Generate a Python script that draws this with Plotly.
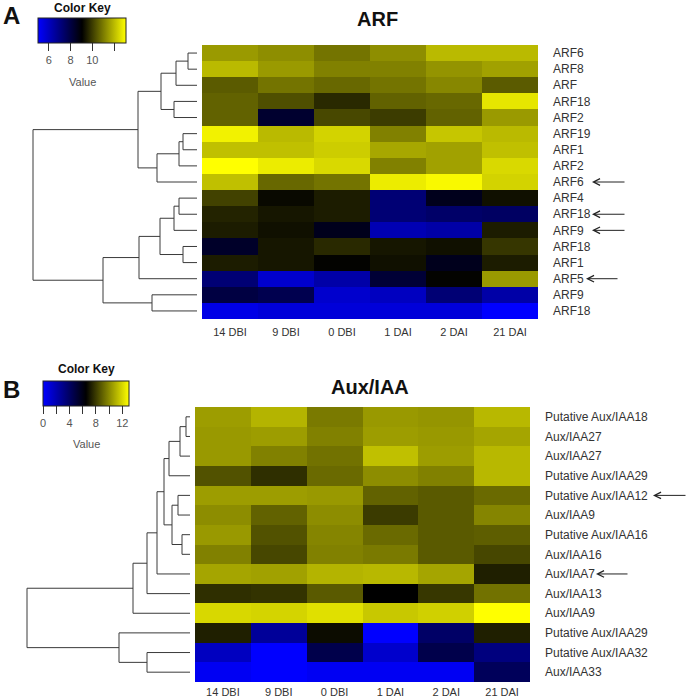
import plotly.graph_objects as go

W, H = 690, 699

# ---------------- data ----------------
cols = ["14 DBI", "9 DBI", "0 DBI", "1 DAI", "2 DAI", "21 DAI"]

arf_rows = ["ARF6", "ARF8", "ARF", "ARF18", "ARF2", "ARF19", "ARF1", "ARF2", "ARF6",
            "ARF4", "ARF18", "ARF9", "ARF18", "ARF1", "ARF5", "ARF9", "ARF18"]
arf_vals = [
    [11.5, 11.3, 10.9, 11.3, 12.0, 12.0],
    [12.0, 11.5, 11.1, 11.1, 11.4, 11.6],
    [10.5, 10.9, 10.7, 10.9, 11.2, 10.5],
    [10.6, 10.3, 9.7, 10.6, 10.7, 12.7],
    [10.6, 8.3, 10.2, 10.0, 10.6, 11.5],
    [12.9, 12.0, 12.4, 11.1, 12.2, 12.0],
    [12.1, 12.1, 12.3, 11.7, 11.6, 12.1],
    [13.1, 12.8, 12.5, 11.1, 11.6, 12.5],
    [12.1, 10.7, 10.9, 12.8, 13.0, 12.4],
    [10.1, 9.2, 9.5, 7.2, 8.6, 9.3],
    [9.6, 9.4, 9.5, 7.2, 7.4, 7.5],
    [9.5, 9.3, 8.6, 6.2, 6.4, 9.5],
    [8.4, 9.4, 9.7, 9.4, 9.3, 9.9],
    [9.5, 9.4, 9.1, 9.3, 8.6, 9.5],
    [7.2, 5.8, 6.4, 8.2, 9.1, 11.5],
    [8.0, 7.8, 5.8, 6.0, 7.2, 6.4],
    [5.4, 5.6, 5.6, 5.6, 5.6, 5.0],
]
# linkage: (left, right, height); leaves 0..n-1, merged nodes n, n+1, ...
arf_link = [
    (0, 1, 9), (17, 2, 21), (3, 4, 23), (18, 19, 36),
    (5, 6, 14), (21, 7, 18), (22, 8, 40), (20, 23, 59),
    (9, 10, 18), (25, 11, 23), (12, 13, 14), (26, 27, 37),
    (28, 14, 58), (15, 16, 45), (29, 30, 94), (24, 31, 164),
]
arf_arrows = [8, 10, 11, 14]

aux_rows = ["Putative Aux/IAA18", "Aux/IAA27", "Aux/IAA27", "Putative Aux/IAA29",
            "Putative Aux/IAA12", "Aux/IAA9", "Putative Aux/IAA16", "Aux/IAA16",
            "Aux/IAA7", "Aux/IAA13", "Aux/IAA9", "Putative Aux/IAA29",
            "Putative Aux/IAA32", "Aux/IAA33"]
aux_vals = [
    [10.5, 11.1, 9.6, 10.4, 10.3, 11.2],
    [10.4, 10.5, 9.8, 10.5, 10.4, 10.7],
    [10.4, 9.8, 9.4, 11.4, 10.5, 11.2],
    [8.6, 7.7, 9.2, 10.1, 9.8, 11.2],
    [10.5, 10.5, 10.4, 9.0, 8.8, 9.2],
    [10.1, 9.0, 10.1, 8.0, 8.8, 9.9],
    [10.4, 8.6, 9.9, 9.2, 8.8, 8.9],
    [9.8, 8.3, 9.8, 9.6, 8.8, 8.3],
    [10.7, 10.6, 11.1, 11.2, 10.7, 7.3],
    [7.7, 7.8, 8.8, 6.5, 7.9, 9.4],
    [12.0, 11.9, 12.2, 11.6, 11.8, 13.0],
    [7.3, 2.6, 6.8, 0.0, 3.9, 7.3],
    [1.6, 0.0, 4.6, 1.3, 4.6, 3.3],
    [0.3, 0.0, 0.3, 0.3, 0.3, 4.2],
]
aux_link = [
    (0, 1, 4), (14, 2, 10), (15, 3, 21), (4, 5, 12), (6, 7, 8),
    (17, 18, 18), (16, 19, 26), (20, 8, 33), (21, 9, 43), (22, 10, 57),
    (12, 13, 43), (11, 24, 71), (23, 25, 163),
]
aux_arrows = [4, 8]

arf_range = (5.0, 13.1)
aux_range = (0.0, 13.0)
arf_key_ticks = [6, 8, 10, 12]
arf_key_text = ["6", "8", "10", ""]
aux_key_ticks = [0, 2, 4, 6, 8, 10, 12]
aux_key_text = ["0", "", "4", "", "8", "", "12"]

# ---------------- helpers ----------------
def px(x):
    return x / W

def py(y):
    return 1 - y / H

def dendro_xy(link, n):
    pos = {i: (float(i), 0.0) for i in range(n)}
    xs, ys = [], []
    for k, (a, b, h) in enumerate(link):
        ya, ha = pos[a]
        yb, hb = pos[b]
        xs += [ha, h, h, hb, None]
        ys += [ya, ya, yb, yb, None]
        pos[n + k] = ((ya + yb) / 2, h)
    return xs, ys

scale = [[0, "#0000FF"], [0.5, "#000000"], [1, "#FFFF00"]]
txt = "#333333"
font_family = "Liberation Sans, Arial, sans-serif"

fig = go.Figure()

panels = [
    dict(rows=arf_rows, vals=arf_vals, link=arf_link, rng=arf_range, arrows=arf_arrows,
         hx=(202, 538), hy=(45, 319), leaf_x=197, xa="x", ya="y", dxa="x2", dya="y2",
         key=dict(x0=38, x1=126, y0=18, tv=arf_key_ticks, tt=arf_key_text),
         title="ARF", title_xy=(377, 19), letter="A", letter_xy=(11, 16),
         ckey_xy=(82, 8), value_xy=(82, 82), xstand=5),
    dict(rows=aux_rows, vals=aux_vals, link=aux_link, rng=aux_range, arrows=aux_arrows,
         hx=(195, 530), hy=(407, 682), leaf_x=190, xa="x3", ya="y3", dxa="x4", dya="y4",
         key=dict(x0=43, x1=129, y0=381, tv=aux_key_ticks, tt=aux_key_text),
         title="Aux/IAA", title_xy=(370, 387), letter="B", letter_xy=(11, 390),
         ckey_xy=(86, 369), value_xy=(86, 444), xstand=2),
]

layout_axes = {}
annotations = []
arrow_specs = {0: [(592, 626), (592, 626), (592, 626), (586, 619)],
               1: [(653, 687), (596, 629)]}

def label(text, xy, size, color, bold=False):
    return dict(text=("<b>%s</b>" % text) if bold else text,
                x=px(xy[0]), y=py(xy[1]), xref="paper", yref="paper",
                xanchor="center", yanchor="middle", showarrow=False,
                font=dict(size=size, color=color, family=font_family))

for pi, p in enumerate(panels):
    n = len(p["rows"])
    k = p["key"]
    fig.add_trace(go.Heatmap(
        z=p["vals"], x=list(range(len(cols))), y=list(range(n)),
        colorscale=scale, zmin=p["rng"][0], zmax=p["rng"][1],
        xaxis=p["xa"], yaxis=p["ya"], hoverinfo="skip",
        colorbar=dict(orientation="h", lenmode="pixels", len=k["x1"] - k["x0"],
                      thickness=25, x=px((k["x0"] + k["x1"]) / 2), xanchor="center",
                      y=py(k["y0"]), yanchor="top", xpad=0, ypad=0,
                      outlinewidth=1, outlinecolor="#222222",
                      tickmode="array", tickvals=k["tv"], ticktext=k["tt"],
                      ticks="outside", ticklen=8, tickwidth=1, tickcolor="#333333",
                      tickfont=dict(size=11, color="#555555", family=font_family)),
    ))
    dx, dy = dendro_xy(p["link"], n)
    fig.add_trace(go.Scatter(x=dx, y=dy, mode="lines", xaxis=p["dxa"], yaxis=p["dya"],
                             line=dict(color="#3a3a3a", width=1), hoverinfo="skip",
                             showlegend=False))
    xdom = [px(p["hx"][0]), px(p["hx"][1])]
    ydom = [py(p["hy"][1]), py(p["hy"][0])]
    xk = "xaxis" + p["xa"][1:]
    yk = "yaxis" + p["ya"][1:]
    dxk = "xaxis" + p["dxa"][1:]
    dyk = "yaxis" + p["dya"][1:]
    layout_axes[xk] = dict(domain=xdom, range=[-0.5, len(cols) - 0.5], anchor=p["ya"],
                           tickmode="array", tickvals=list(range(len(cols))), ticktext=cols,
                           showgrid=False, zeroline=False, showline=False, ticks="",
                           ticklabelstandoff=p["xstand"], automargin=False,
                           tickfont=dict(size=11, color=txt, family=font_family))
    layout_axes[yk] = dict(domain=ydom, range=[n - 0.5, -0.5], anchor=p["xa"], side="right",
                           tickmode="array", tickvals=list(range(n)), ticktext=p["rows"],
                           showgrid=False, zeroline=False, showline=False, ticks="",
                           ticklabelstandoff=14, automargin=False,
                           tickfont=dict(size=12, color=txt, family=font_family))
    layout_axes[dxk] = dict(domain=[0, px(p["leaf_x"])], range=[p["leaf_x"], 0],
                            anchor=p["dya"], visible=False)
    layout_axes[dyk] = dict(domain=ydom, range=[n - 0.5, -0.5], anchor=p["dxa"], visible=False)

    annotations.append(label(p["title"], p["title_xy"], 20, "#111111", bold=True))
    annotations.append(label(p["letter"], p["letter_xy"], 24, "#111111", bold=True))
    annotations.append(label("Color Key", p["ckey_xy"], 12, "#111111", bold=True))
    annotations.append(label("Value", p["value_xy"], 11, "#555555"))
    for (head, tail), r in zip(arrow_specs[pi], p["arrows"]):
        annotations.append(dict(text="", x=px(head), y=r, xref="paper", yref=p["ya"],
                                ax=tail - head, ay=0, showarrow=True, arrowhead=5,
                                arrowsize=1.3, arrowwidth=1, arrowcolor="#222222"))

fig.update_layout(width=W, height=H,
                  margin=dict(l=0, r=0, t=0, b=0, autoexpand=False),
                  paper_bgcolor="white", plot_bgcolor="white", showlegend=False,
                  annotations=annotations, **layout_axes)

fig.write_html("out.html", config={"displayModeBar": False},
               post_script="document.body.style.margin='0';document.body.style.overflow='hidden';")
